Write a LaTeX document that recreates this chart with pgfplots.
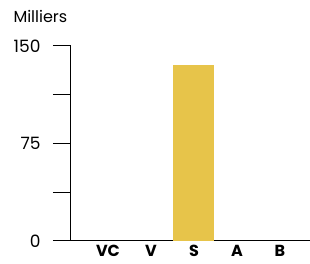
\documentclass[border=0pt]{standalone}
\usepackage{pgfplots}
\pgfplotsset{compat=1.18}
\usepackage{fontspec}
\setmainfont{Poppins}
\definecolor{baryellow}{HTML}{E7C44A}
\begin{document}
\begin{tikzpicture}
\path[use as bounding box] (-71pt,-23pt) rectangle (239pt,241pt);
\begin{axis}[
  at={(0,0)}, anchor=south west,
  scale only axis, width=239pt, height=195pt,
  xmin=-0.86, xmax=4.7, ymin=0, ymax=150,
  axis lines*=left,
  axis line style={line width=1pt, black},
  xtick={0,1,2,3,4},
  xticklabels={VC,V,S,A,B},
  xticklabel style={font=\fontsize{16}{18}\selectfont\bfseries, anchor=base, inner sep=0pt, text depth=0pt, yshift=3pt},
  x tick style={draw=none},
  ytick={0,75,150},
  minor ytick={37.5,112.5},
  y tick style={line width=1pt, black},
  tick align=outside,
  major tick length=18pt,
  minor tick length=18pt,
  yticklabel style={font=\fontsize{17}{19}\selectfont, xshift=-9pt},
  /pgf/number format/assume math mode=true,
  clip=false,
]
\addplot[ybar, bar width=41pt, fill=baryellow, draw=none] coordinates {(2,135)};
\node[anchor=base west, font=\fontsize{16}{18}\selectfont] at ([xshift=-61pt,yshift=23pt]rel axis cs:0,1) {Milliers};
\end{axis}
\end{tikzpicture}
\end{document}
